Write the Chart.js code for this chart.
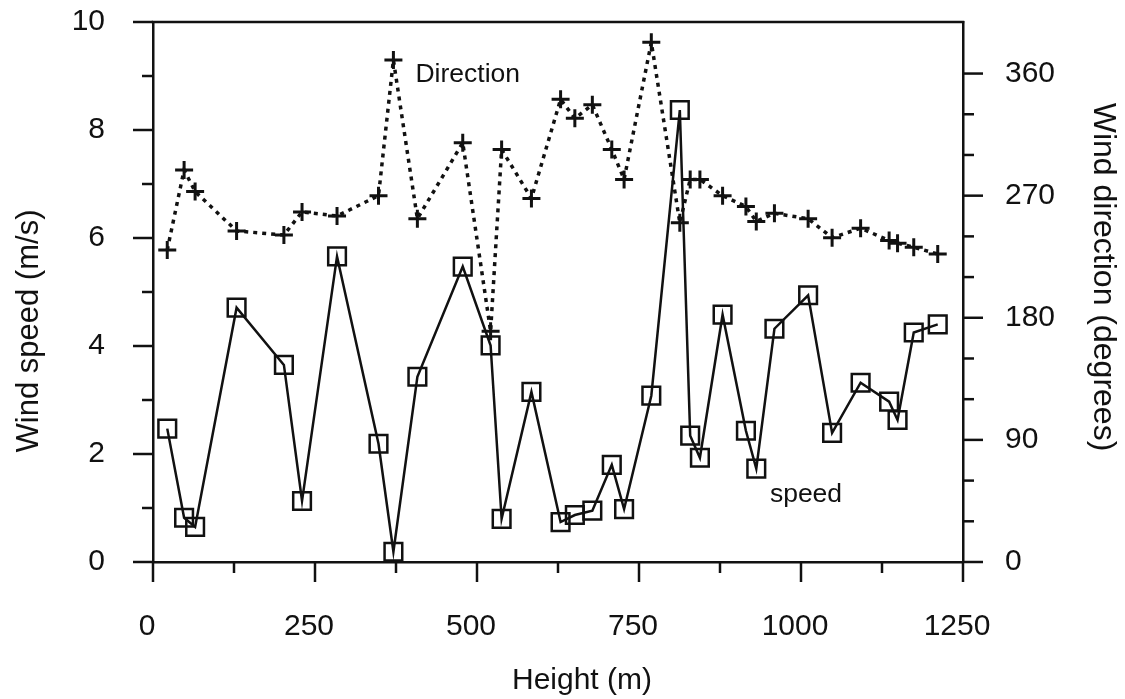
<!DOCTYPE html>
<html lang="en">
<head>
<meta charset="UTF-8">
<title>Wind speed and direction vs height</title>
<script src="https://cdn.jsdelivr.net/npm/chart.js"></script>
<style>
  html, body { margin: 0; padding: 0; background: #fff; }
  #wrap { width: 1125px; height: 699px; }
</style>
</head>
<body>
<div id="wrap"><canvas id="windChart" width="1125" height="699"></canvas></div>
<script>
// heights (m) shared by both series
const heights = [22, 48, 65, 129, 202, 230, 284, 348, 371, 408, 478, 521, 538, 584, 629, 651, 678, 708, 727, 769,
  813, 829, 844, 879, 915, 931, 959, 1011, 1048, 1092, 1136, 1149, 1174, 1211];
// wind speed (m/s)
const speeds = [2.47, 0.82, 0.65, 4.71, 3.65, 1.13, 5.66, 2.19, 0.19, 3.43, 5.47, 4.01, 0.80, 3.15, 0.74, 0.87, 0.95, 1.80, 0.98, 3.08,
  8.37, 2.34, 1.93, 4.58, 2.43, 1.73, 4.32, 4.94, 2.39, 3.32, 2.97, 2.63, 4.25, 4.40];
// wind direction (degrees)
const directions = [230, 289, 273, 244, 241, 258, 255, 270, 370, 253, 309, 170, 304, 268, 341, 327, 337, 304, 282, 383,
  250, 282, 282, 270, 262, 251, 257, 253, 239, 246, 237, 235, 232, 227];

const heightTicks = [0, 250, 500, 750, 1000, 1250];
const speedTicks = [0, 2, 4, 6, 8, 10];
const dirTicks = [0, 90, 180, 270, 360];

const INK = '#111';
const FONT = '"Liberation Sans", Arial, sans-serif';

// no extra room for half-labels at the ends, the box is placed by hand
function fixBox(size, prop) {
  return (scale) => {
    scale[prop] = size;
    scale.paddingTop = 0;
    scale.paddingBottom = 0;
    scale.paddingLeft = 0;
    scale.paddingRight = 0;
  };
}

// tick marks outside the box (minor ones between labels), top edge, titles and series labels
const decorations = {
  id: 'decorations',
  afterDraw(chart) {
    const ctx = chart.ctx;
    const area = chart.chartArea;
    const s = chart.scales;
    ctx.save();
    ctx.strokeStyle = INK;
    ctx.lineWidth = 2.5;

    function line(x1, y1, x2, y2) {
      ctx.beginPath();
      ctx.moveTo(x1, y1);
      ctx.lineTo(x2, y2);
      ctx.stroke();
    }
    function marks(scale, values, minorCount, draw) {
      values.forEach((v, i) => {
        draw(scale.getPixelForValue(v), 20);
        if (i < values.length - 1) {
          const step = (values[i + 1] - v) / (minorCount + 1);
          for (let k = 1; k <= minorCount; k++) draw(scale.getPixelForValue(v + k * step), 11);
        }
      });
    }
    marks(s.x, heightTicks, 1, (p, len) => line(p, area.bottom, p, area.bottom + len));
    marks(s.y, speedTicks, 1, (p, len) => line(area.left, p, area.left - len, p));
    marks(s.y1, dirTicks, 2, (p, len) => line(area.right, p, area.right + len, p));
    line(area.left - 1.25, area.top, area.right + 1.25, area.top);

    ctx.fillStyle = INK;
    ctx.textAlign = 'center';
    ctx.textBaseline = 'middle';

    ctx.font = '30px ' + FONT;
    ctx.fillText('Height (m)', 582, 681);

    ctx.save();
    ctx.translate(29, 331);
    ctx.rotate(-Math.PI / 2);
    ctx.font = '31px ' + FONT;
    ctx.fillText('Wind speed (m/s)', 0, 0);
    ctx.restore();

    ctx.save();
    ctx.translate(1103, 277);
    ctx.rotate(Math.PI / 2);
    ctx.font = '32px ' + FONT;
    ctx.fillText('Wind direction (degrees)', 0, 0);
    ctx.restore();

    ctx.font = '26.5px ' + FONT;
    ctx.textAlign = 'left';
    ctx.textBaseline = 'alphabetic';
    ctx.fillText('Direction', s.x.getPixelForValue(405), s.y1.getPixelForValue(354));
    ctx.fillText('speed', s.x.getPixelForValue(952), s.y.getPixelForValue(1.11));
    ctx.restore();
  }
};

const tickFont = { family: FONT, size: 30 };
const plain = (v) => String(v);

const ctx = document.getElementById('windChart').getContext('2d');
new Chart(ctx, {
  type: 'scatter',
  data: {
    datasets: [
      {
        label: 'Direction',
        data: heights.map((h, i) => ({ x: h, y: directions[i] })),
        yAxisID: 'y1',
        showLine: true,
        borderColor: INK,
        borderWidth: 3.5,
        borderDash: [4, 5],
        pointStyle: 'cross',
        pointRadius: 9,
        pointBorderWidth: 3,
        pointBorderColor: INK
      },
      {
        label: 'speed',
        data: heights.map((h, i) => ({ x: h, y: speeds[i] })),
        yAxisID: 'y',
        showLine: true,
        borderColor: INK,
        borderWidth: 2.5,
        pointStyle: 'rect',
        pointRadius: 12.5,
        pointBorderWidth: 2.5,
        pointBorderColor: INK,
        pointBackgroundColor: 'rgba(255,255,255,0)'
      }
    ]
  },
  options: {
    responsive: false,
    animation: false,
    layout: { padding: { top: 22, left: 0, right: 0, bottom: 0 } },
    plugins: {
      legend: { display: false },
      tooltip: { enabled: false }
    },
    scales: {
      x: {
        type: 'linear',
        min: 0,
        max: 1250,
        afterBuildTicks: (scale) => { scale.ticks = heightTicks.map(v => ({ value: v })); },
        ticks: { padding: 39, labelOffset: -6, color: INK, font: tickFont, callback: plain, maxRotation: 0 },
        grid: { display: false },
        border: { color: INK, width: 2.5 },
        afterFit: fixBox(137, 'height')
      },
      y: {
        position: 'left',
        min: 0,
        max: 10,
        afterBuildTicks: (scale) => { scale.ticks = speedTicks.map(v => ({ value: v })); },
        ticks: { padding: 40, color: INK, font: tickFont, callback: plain },
        grid: { display: false },
        border: { color: INK, width: 2.5 },
        afterFit: fixBox(153, 'width')
      },
      y1: {
        position: 'right',
        min: 0,
        max: 398,
        afterBuildTicks: (scale) => { scale.ticks = dirTicks.map(v => ({ value: v })); },
        ticks: { padding: 34, color: INK, font: tickFont, callback: plain },
        grid: { display: false },
        border: { color: INK, width: 2.5 },
        afterFit: fixBox(162, 'width')
      }
    }
  },
  plugins: [decorations]
});
</script>
</body>
</html>
